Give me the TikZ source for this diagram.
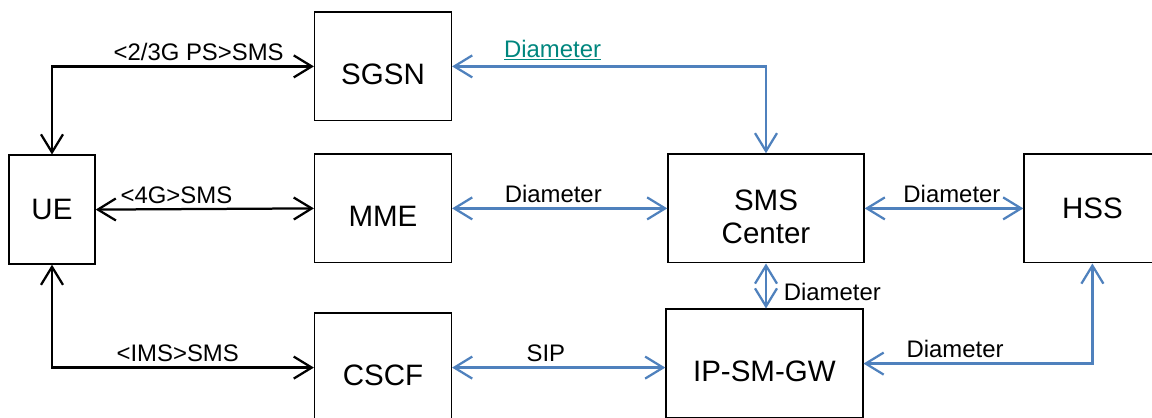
\documentclass[tikz,border=0pt]{standalone}
\usepackage{fontspec}
\setmainfont{Liberation Sans}
\usepackage{tikz}
\usetikzlibrary{shapes,arrows,arrows.meta,positioning}

\definecolor{diablue}{RGB}{79,129,189}
\definecolor{diateal}{RGB}{0,134,126}

\tikzset{
  box/.style={draw, line width=1pt, inner sep=0pt, align=center,
    font=\fontsize{21}{23.5}\selectfont},
  lowtext/.style={text height=0.9cm, text depth=0pt},
  link/.style={line width=1.6pt,
    {Straight Barb[length=4.5mm,width=5.5mm]}-{Straight Barb[length=4.5mm,width=5.5mm]}},
  dia/.style={link, draw=diablue},
  lbl/.style={font=\fontsize{17}{20}\selectfont, text=black}
}

\begin{document}
\begin{tikzpicture}
\useasboundingbox (0,0) rectangle (28.8,10.45);
\clip (0,0) rectangle (28.8,10.45);

\node[box, minimum width=2.15cm, minimum height=2.72cm] (UE) at (1.3,5.21) {UE};

\node[box, lowtext, minimum width=3.42cm, minimum height=2.72cm] (SGSN) at (9.575,8.79) {SGSN};
\node[box, lowtext, minimum width=3.42cm, minimum height=2.72cm] (MME) at (9.575,5.24) {MME};
\node[box, lowtext, minimum width=3.42cm, minimum height=2.72cm] (CSCF) at (9.575,1.26) {CSCF};

\node[box, text height=1.76cm, text depth=0pt, minimum width=4.9cm, minimum height=2.72cm] (SMSC) at (19.15,5.24) {SMS\\Center};
\node[box, lowtext, minimum width=4.92cm, minimum height=2.72cm] (IPSMGW) at (19.11,1.36) {IP-SM-GW};
\node[box, minimum width=3.42cm, minimum height=2.72cm] (HSS) at (27.31,5.24) {HSS};

% UE side
\draw[link] (UE.north) |- (SGSN.west) node[lbl, above, pos=0.78] {<2/3G PS>SMS};
\draw[link] (UE.east) -- (MME.west) node[lbl, above, pos=0.37] {<4G>SMS};
\draw[link] (UE.south) |- (CSCF.west) node[lbl, above, pos=0.74] {<IMS>SMS};

% core side
\draw[dia] (SGSN.east) -| (SMSC.north) node[lbl, above, pos=0.16, text=diateal] {\underline{Diameter}};
\draw[dia] (MME.east) -- (SMSC.west) node[lbl, above, pos=0.47] {Diameter};
\draw[dia] (SMSC.east) -- (HSS.west) node[lbl, above, pos=0.55] {Diameter};
\draw[dia] (SMSC.south) -- (SMSC.south |- IPSMGW.north) node[lbl, right, pos=0.55, xshift=0.3cm, yshift=-0.1cm] {Diameter};
\draw[dia] (CSCF.east) -- (CSCF.east -| IPSMGW.west) node[lbl, above, pos=0.44] {SIP};
\draw[dia] (IPSMGW.east) -| (HSS.south) node[lbl, above, pos=0.2] {Diameter};
\end{tikzpicture}
\end{document}
